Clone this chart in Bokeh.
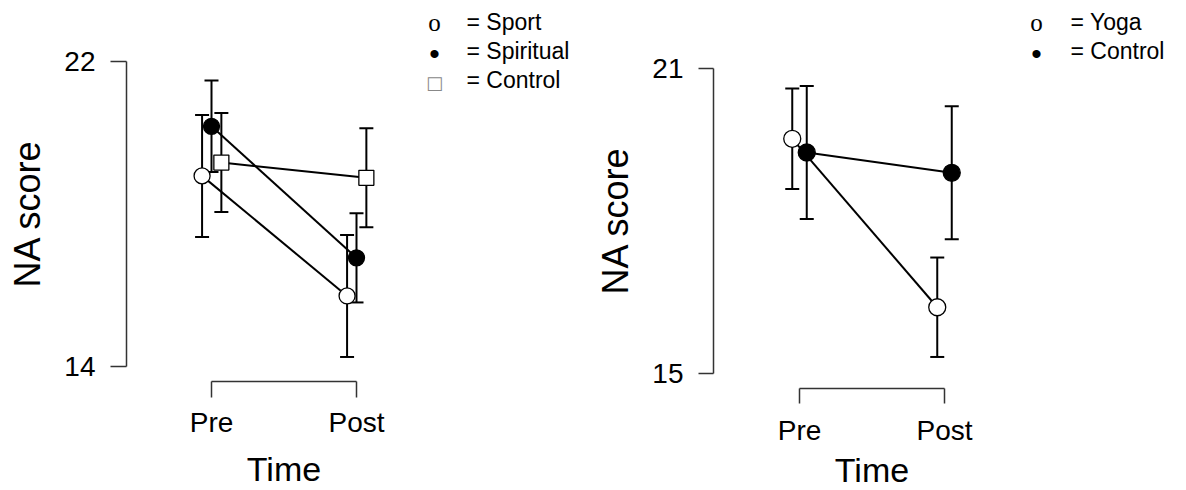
import math
from bokeh.plotting import figure
from bokeh.models import (Range1d, FixedTicker, Whisker, TeeHead, Label,
                          ColumnDataSource, LinearAxis, Grid)
from bokeh.embed import file_html
from bokeh.resources import INLINE

# ---------------- data ----------------
time_labels = ["Pre", "Post"]
time_values = [1, 2]

left_groups = ["Sport", "Spiritual", "Control"]
left_pre = [19.0, 20.3, 19.35]
left_post = [15.85, 16.85, 18.95]
left_pre_err = [1.6, 1.2, 1.3]
left_post_err = [1.6, 1.17, 1.3]
left_yticks = [14, 22]

right_groups = ["Yoga", "Control"]
right_pre = [19.62, 19.35]
right_post = [16.3, 18.95]
right_pre_err = [0.99, 1.31]
right_post_err = [0.98, 1.31]
right_yticks = [15, 21]

# ---------------- styles / layout ----------------
W, H = 1186, 490
FONT = "Liberation Sans"
PPX = 145.0  # pixels per time step

left_style = {
    "Sport": dict(marker="circle", fill="white", size=16, dodge=-0.065, sym="o",
                  sym_font="Liberation Serif", sym_size="25px", sym_color="black", sym_y=0.6),
    "Spiritual": dict(marker="circle", fill="black", size=16, dodge=0.0, sym="\u2022",
                      sym_font=FONT, sym_size="30px", sym_color="black", sym_y=2),
    "Control": dict(marker="square", fill="white", size=15, dodge=0.068, sym="\u25A1",
                    sym_font="DejaVu Sans", sym_size="18px", sym_color="#888888", sym_y=2),
}
right_style = {
    "Yoga": dict(marker="circle", fill="white", size=17, dodge=-0.05, sym="o",
                 sym_font="Liberation Serif", sym_size="25px", sym_color="black", sym_y=0.6),
    "Control": dict(marker="circle", fill="black", size=17, dodge=0.05, sym="\u2022",
                    sym_font=FONT, sym_size="30px", sym_color="black", sym_y=2),
}


class Panel:
    def __init__(self, pre_px, yticks, ylo_px, yhi_px):
        self.ppy = (ylo_px - yhi_px) / (yticks[1] - yticks[0])
        self.x0 = time_values[0] - pre_px / PPX
        self.x1 = self.x0 + W / PPX
        self.y0 = yticks[0] - (H - ylo_px) / self.ppy
        self.y1 = yticks[1] + yhi_px / self.ppy

    def dx(self, px):
        return self.x0 + px / PPX

    def dy(self, py):
        return self.y0 + (H - py) / self.ppy


L = Panel(pre_px=211, yticks=left_yticks, ylo_px=366, yhi_px=61)
R = Panel(pre_px=799, yticks=right_yticks, ylo_px=372.7, yhi_px=68.3)

p = figure(width=W, height=H, x_range=Range1d(L.x0, L.x1), y_range=Range1d(L.y0, L.y1),
           x_axis_location=None, y_axis_location=None, min_border=0,
           output_backend="svg", toolbar_location=None)
p.extra_x_ranges = {"right": Range1d(R.x0, R.x1)}
p.extra_y_ranges = {"right": Range1d(R.y0, R.y1)}
p.outline_line_color = None
p.background_fill_color = "white"
p.border_fill_color = "white"
p.center = [c for c in p.center if not isinstance(c, Grid)]


def style_axis(ax, tick_out, standoff):
    ax.major_tick_out = tick_out
    ax.major_tick_in = 0
    ax.minor_tick_out = 0
    ax.minor_tick_in = 0
    ax.axis_line_width = 1.5
    ax.axis_line_color = "#333333"
    ax.major_tick_line_width = 1.5
    ax.major_tick_line_color = "#333333"
    ax.major_label_text_font = FONT
    ax.major_label_text_font_size = "28px"
    ax.major_label_text_color = "black"
    ax.major_label_standoff = standoff


def build(panel, rname, groups, pre, post, pre_err, post_err, yticks, styles,
          yaxis_px, xaxis_px, tick_out, ystandoff, xstandoff,
          ylab_px, time_mid_px, sym_x, txt_x, rows):
    # axes
    ya = LinearAxis(x_range_name=rname, y_range_name=rname,
                    ticker=FixedTicker(ticks=yticks), bounds=(yticks[0], yticks[1]),
                    fixed_location=panel.dx(yaxis_px))
    style_axis(ya, tick_out, ystandoff)
    p.add_layout(ya, "left")
    xa = LinearAxis(x_range_name=rname, y_range_name=rname,
                    ticker=FixedTicker(ticks=time_values),
                    bounds=(time_values[0], time_values[1]),
                    major_label_overrides={v: l for v, l in zip(time_values, time_labels)},
                    fixed_location=panel.dy(xaxis_px))
    style_axis(xa, tick_out, xstandoff)
    p.add_layout(xa, "below")

    # axis titles
    p.add_layout(Label(x=panel.dx(ylab_px[0]), y=panel.dy(ylab_px[1]), text="NA score",
                       x_range_name=rname, y_range_name=rname, angle=math.pi / 2,
                       text_font=FONT, text_font_size="36px", text_color="black",
                       text_align="center", text_baseline="middle"))
    p.add_layout(Label(x=sum(time_values) / 2, y=panel.dy(time_mid_px), text="Time",
                       x_range_name=rname, y_range_name=rname,
                       text_font=FONT, text_font_size="34px", text_color="black",
                       text_align="center", text_baseline="middle"))

    # lines + error bars
    for i, g in enumerate(groups):
        st = styles[g]
        xs = [t + st["dodge"] for t in time_values]
        ys = [pre[i], post[i]]
        errs = [pre_err[i], post_err[i]]
        src = ColumnDataSource(dict(x=xs, y=ys,
                                    upper=[v + e for v, e in zip(ys, errs)],
                                    lower=[v - e for v, e in zip(ys, errs)]))
        p.line("x", "y", source=src, line_color="black", line_width=2,
               x_range_name=rname, y_range_name=rname)
        w = Whisker(source=src, base="x", upper="upper", lower="lower", dimension="height",
                    x_range_name=rname, y_range_name=rname,
                    line_color="black", line_width=2,
                    upper_head=TeeHead(size=14, line_width=2, line_color="black"),
                    lower_head=TeeHead(size=14, line_width=2, line_color="black"))
        w.level = "underlay"
        p.add_layout(w)

    # markers
    for i, g in enumerate(groups):
        st = styles[g]
        xs = [t + st["dodge"] for t in time_values]
        ys = [pre[i], post[i]]
        p.scatter(xs, ys, marker=st["marker"], size=st["size"], fill_color=st["fill"],
                  line_color="black", line_width=1.3,
                  x_range_name=rname, y_range_name=rname)

    # legend drawn as text, as in the original
    for g, mid in zip(groups, rows):
        st = styles[g]
        p.add_layout(Label(x=panel.dx(sym_x), y=panel.dy(mid + st["sym_y"]), text=st["sym"],
                           x_range_name=rname, y_range_name=rname,
                           text_font=st["sym_font"], text_font_size=st["sym_size"],
                           text_color=st["sym_color"], text_align="center",
                           text_baseline="middle"))
        p.add_layout(Label(x=panel.dx(txt_x), y=panel.dy(mid), text="= " + g,
                           x_range_name=rname, y_range_name=rname,
                           text_font=FONT, text_font_size="23px", text_color="black",
                           text_align="left", text_baseline="middle"))


build(L, "default", left_groups, left_pre, left_post, left_pre_err, left_post_err,
      left_yticks, left_style, yaxis_px=126, xaxis_px=381, tick_out=16, ystandoff=15,
      xstandoff=9, ylab_px=(27, 213), time_mid_px=468, sym_x=434, txt_x=466,
      rows=[21.7, 50.5, 79.5])
build(R, "right", right_groups, right_pre, right_post, right_pre_err, right_post_err,
      right_yticks, right_style, yaxis_px=713, xaxis_px=388, tick_out=15, ystandoff=15,
      xstandoff=11, ylab_px=(615, 220), time_mid_px=469, sym_x=1036, txt_x=1070,
      rows=[21.7, 50.5])

open("out.html", "w").write(file_html(p, INLINE))
